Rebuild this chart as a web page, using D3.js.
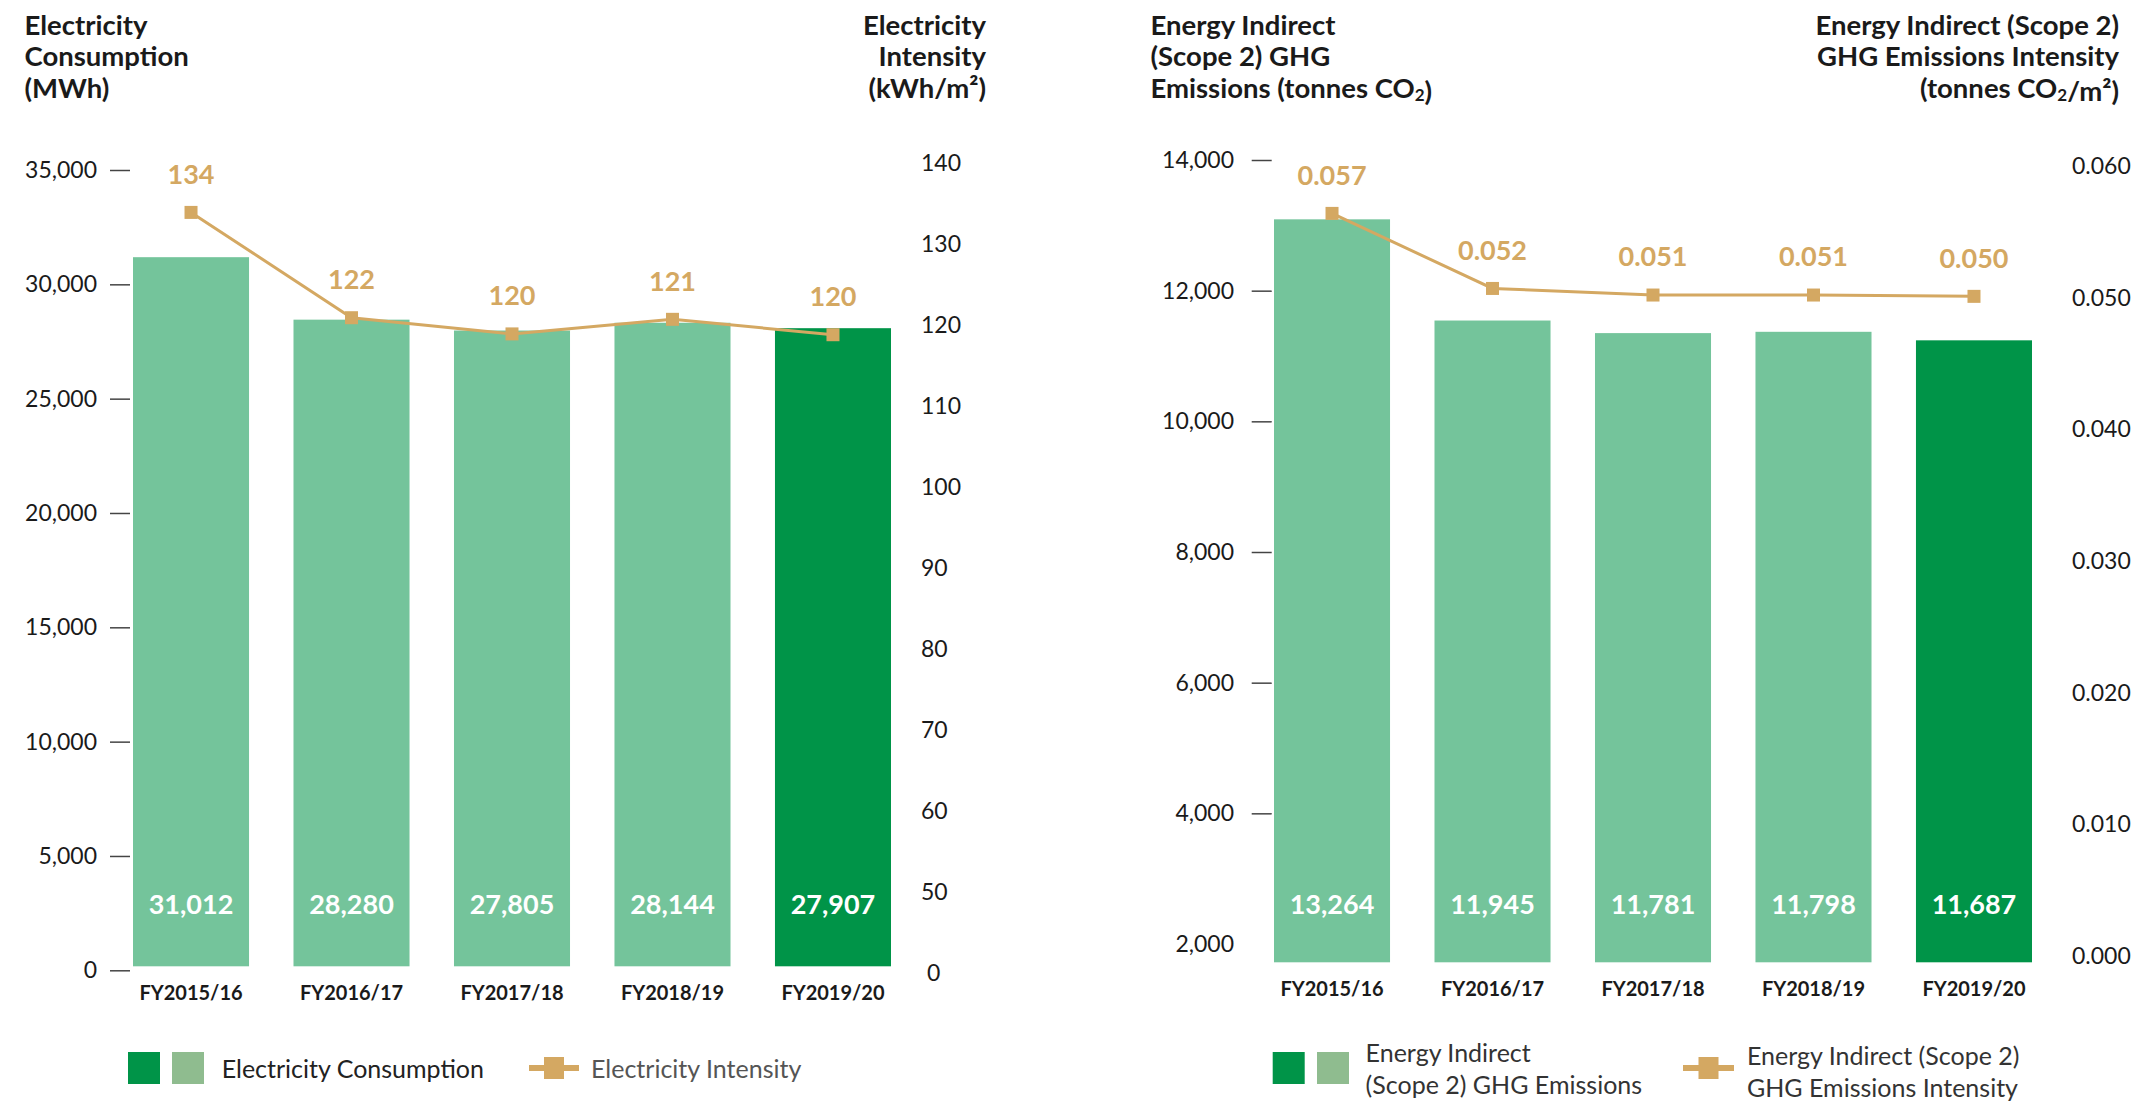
<!DOCTYPE html>
<html>
<head>
<meta charset="utf-8">
<script src="https://cdn.jsdelivr.net/npm/d3@7"></script>
<style>
  body { margin: 0; background: #fff; }
  text { font-family: Lato, "Open Sans", sans-serif; }
</style>
</head>
<body>
<div id="chart"></div>
<script>
const width = 2137;
const height = 1101;

// data
const years = ["FY2015/16", "FY2016/17", "FY2017/18", "FY2018/19", "FY2019/20"];

const elecConsumption = [31012, 28280, 27805, 28144, 27907];
// intensity markers as plotted, and the labels printed above them
const elecIntensity = [133.9, 120.9, 118.9, 120.7, 118.8];
const elecIntensityLabels = ["134", "122", "120", "121", "120"];

const ghgEmissions = [13264, 11945, 11781, 11798, 11687];
const ghgIntensity = [0.0564, 0.0507, 0.0502, 0.0502, 0.0501];
const ghgIntensityLabels = ["0.057", "0.052", "0.051", "0.051", "0.050"];

const elecTicks = [0, 5000, 10000, 15000, 20000, 25000, 30000, 35000];
const elecIntensityTicks = [0, 50, 60, 70, 80, 90, 100, 110, 120, 130, 140];
const ghgTicks = [2000, 4000, 6000, 8000, 10000, 12000, 14000];
const ghgIntensityTicks = [0, 0.01, 0.02, 0.03, 0.04, 0.05, 0.06];

const green = "#009448";
const lightGreen = "#74C49B";
const legendLight = "#8FBC8F";
const tan = "#D4A862";
const ink = "#1a1a1a";

const svg = d3.select("#chart")
  .append("svg")
  .attr("width", width)
  .attr("height", height);

// multi-line text, "₂" is drawn as a small lowered 2
function addLines(lines, x, ys, anchor, opts) {
  lines.forEach((line, k) => {
    const t = svg.append("text")
      .attr("x", x)
      .attr("y", ys[k])
      .attr("dy", "0.35em")
      .attr("text-anchor", anchor)
      .attr("font-size", opts.size)
      .attr("font-weight", opts.weight || 400)
      .attr("fill", opts.fill || ink);
    line.split(/(₂)/).forEach(part => {
      if (part === "") return;
      if (part === "₂") {
        t.append("tspan").attr("font-size", opts.size * 0.62).attr("dy", 3).text("2");
        t.append("tspan").attr("dy", -3).text("");
      } else {
        t.append("tspan").text(part);
      }
    });
  });
}

function drawPanel(o) {
  const g = svg.append("g");
  const x = d3.scaleBand().domain(years).range(o.xRange).paddingInner(0.277);
  const cx = (d, i) => x(years[i]) + x.bandwidth() / 2;
  const last = years.length - 1;

  // left axis
  const axL = g.append("g")
    .attr("transform", `translate(${o.axisX},0)`)
    .call(d3.axisLeft(o.yAxis).tickValues(o.leftTicks).tickSize(20)
      .tickPadding(o.tickPad).tickFormat(d3.format(",")));
  axL.select(".domain").remove();
  axL.attr("font-size", 23).attr("font-family", "Lato, sans-serif");
  axL.selectAll("text").attr("fill", ink);
  axL.selectAll("line").attr("stroke", "#444").attr("stroke-width", 1.5);
  axL.selectAll(".tick").filter(d => o.noTick.includes(d)).select("line").remove();

  // right axis
  const axR = g.append("g")
    .attr("transform", `translate(${o.rightAxisX},0)`)
    .call(d3.axisRight(o.yLine).tickValues(o.rightTicks).tickSize(0)
      .tickPadding(0).tickFormat(o.rightFormat));
  axR.select(".domain").remove();
  axR.attr("font-size", 23).attr("font-family", "Lato, sans-serif");
  axR.selectAll("text").attr("fill", ink);
  // a lone "0" sits under the middle of the two-digit labels
  axR.selectAll(".tick").filter(d => d === 0 && o.centerZero).select("text").attr("dx", 6);

  const base = o.yBar.range()[0];

  // bars
  g.selectAll(".bar")
    .data(o.bars)
    .join("rect")
    .attr("x", (d, i) => x(years[i]))
    .attr("y", d => o.yBar(d))
    .attr("width", x.bandwidth())
    .attr("height", d => base - o.yBar(d))
    .attr("fill", (d, i) => i === last ? green : lightGreen);

  // values inside bars
  g.selectAll(".barLabel")
    .data(o.bars)
    .join("text")
    .attr("x", cx)
    .attr("y", o.barLabelY)
    .attr("dy", "0.35em")
    .attr("text-anchor", "middle")
    .attr("font-size", 27)
    .attr("font-weight", 700)
    .attr("fill", "#fff")
    .text(d3.format(","));

  // categories
  g.selectAll(".cat")
    .data(years)
    .join("text")
    .attr("x", (d, i) => cx(d, i))
    .attr("y", base + 27)
    .attr("dy", "0.35em")
    .attr("text-anchor", "middle")
    .attr("font-size", 20)
    .attr("font-weight", 700)
    .attr("fill", ink)
    .text(d => d);

  // intensity line
  g.append("path")
    .datum(o.line)
    .attr("fill", "none")
    .attr("stroke", tan)
    .attr("stroke-width", 3)
    .attr("d", d3.line().x(cx).y(d => o.yLine(d)));

  g.selectAll(".marker")
    .data(o.line)
    .join("rect")
    .attr("x", (d, i) => cx(d, i) - 6.5)
    .attr("y", d => o.yLine(d) - 6.5)
    .attr("width", 13)
    .attr("height", 13)
    .attr("fill", tan);

  g.selectAll(".lineLabel")
    .data(o.line)
    .join("text")
    .attr("x", cx)
    .attr("y", d => o.yLine(d) - 38)
    .attr("dy", "0.35em")
    .attr("text-anchor", "middle")
    .attr("font-size", 27)
    .attr("font-weight", 700)
    .attr("fill", tan)
    .text((d, i) => o.lineLabels[i]);
}

/* ELECTRICITY PANEL */
drawPanel({
  xRange: [133, 891],
  bars: elecConsumption,
  yAxis: d3.scaleLinear().domain([0, 35000]).range([970.3, 170]),
  yBar: d3.scaleLinear().domain([0, 35000]).range([966.3, 166]),
  leftTicks: elecTicks,
  noTick: [],
  axisX: 130,
  tickPad: 13,
  // broken right axis: 0 sits one step below 50
  yLine: d3.scaleLinear().domain([0, 50, 140]).range([973, 892, 163]),
  rightTicks: elecIntensityTicks,
  rightFormat: d3.format("d"),
  rightAxisX: 921,
  centerZero: true,
  line: elecIntensity,
  lineLabels: elecIntensityLabels,
  barLabelY: 905
});

/* GHG PANEL */
drawPanel({
  xRange: [1274, 2032],
  bars: ghgEmissions,
  yAxis: d3.scaleLinear().domain([2000, 14000]).range([944, 160]),
  yBar: d3.scaleLinear().domain([3580, 13950]).range([962.3, 166.7]),
  leftTicks: ghgTicks,
  noTick: [2000],
  axisX: 1271.7,
  tickPad: 17.7,
  yLine: d3.scaleLinear().domain([0, 0.06]).range([956, 166]),
  rightTicks: ghgIntensityTicks,
  rightFormat: d3.format(".3f"),
  rightAxisX: 2072,
  centerZero: false,
  line: ghgIntensity,
  lineLabels: ghgIntensityLabels,
  barLabelY: 905
});

/* TITLES */
const titleYs = [25, 56.7, 88.3];
const titleStyle = {size: 27.5, weight: 700};
addLines(["Electricity", "Consumption", "(MWh)"], 24.5, titleYs, "start", titleStyle);
addLines(["Electricity", "Intensity", "(kWh/m²)"], 986, titleYs, "end", titleStyle);
addLines(["Energy Indirect", "(Scope 2) GHG", "Emissions (tonnes CO₂)"], 1150.5, titleYs, "start", titleStyle);
addLines(["Energy Indirect (Scope 2)", "GHG Emissions Intensity", "(tonnes CO₂/m²)"], 2119, titleYs, "end", titleStyle);

/* LEGENDS */
function legendSquares(x0, x1, y) {
  svg.append("rect").attr("x", x0).attr("y", y - 16).attr("width", 32).attr("height", 32).attr("fill", green);
  svg.append("rect").attr("x", x1).attr("y", y - 16).attr("width", 32).attr("height", 32).attr("fill", legendLight);
}

function legendLine(x0, x1, y) {
  svg.append("line").attr("x1", x0).attr("x2", x1).attr("y1", y).attr("y2", y)
    .attr("stroke", tan).attr("stroke-width", 6);
  svg.append("rect").attr("x", (x0 + x1) / 2 - 10).attr("y", y - 11).attr("width", 20).attr("height", 22)
    .attr("fill", tan);
}

const legendSize = 25;
legendSquares(128, 172, 1068);
addLines(["Electricity Consumption"], 221.7, [1069], "start", {size: legendSize, fill: "#222"});
legendLine(529, 579, 1068);
addLines(["Electricity Intensity"], 591, [1069], "start", {size: legendSize, fill: "#555"});

legendSquares(1272.7, 1317, 1068);
addLines(["Energy Indirect", "(Scope 2) GHG Emissions"], 1365.6, [1053.3, 1085], "start", {size: legendSize, fill: "#333"});
legendLine(1683, 1734, 1068);
addLines(["Energy Indirect (Scope 2)", "GHG Emissions Intensity"], 1747, [1056.7, 1088.3], "start", {size: legendSize, fill: "#333"});
</script>
</body>
</html>
